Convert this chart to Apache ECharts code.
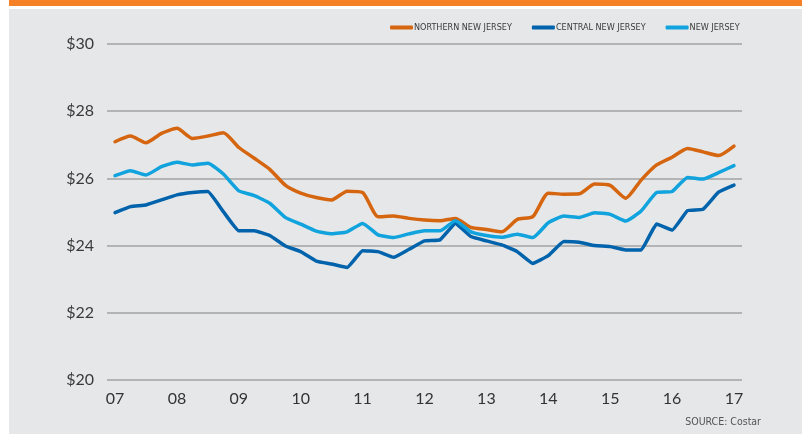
<!DOCTYPE html>
<html>
<head>
<meta charset="utf-8">
<script src="https://cdn.jsdelivr.net/npm/echarts@6/dist/echarts.min.js"></script>
<style>
html,body{margin:0;padding:0;background:#fff;}
#chart{width:802px;height:434px;}
</style>
</head>
<body>
<div id="chart"></div>
<script>
// Quarterly asking rents, 2007 Q1 .. 2017 Q1 (41 quarters)
var yearLabels = ['07','08','09','10','11','12','13','14','15','16','17'];
var seriesNames = ['NORTHERN NEW JERSEY','CENTRAL NEW JERSEY','NEW JERSEY'];
var northern = [27.09,27.26,27.06,27.34,27.49,27.19,27.26,27.36,26.92,26.60,26.27,25.80,25.56,25.43,25.36,25.62,25.58,24.86,24.88,24.81,24.76,24.74,24.81,24.54,24.48,24.41,24.78,24.86,25.56,25.53,25.54,25.83,25.79,25.41,25.95,26.40,26.63,26.89,26.79,26.68,26.96];
var central  = [24.98,25.16,25.21,25.36,25.51,25.58,25.61,25.01,24.44,24.44,24.30,23.99,23.82,23.54,23.45,23.35,23.85,23.82,23.65,23.89,24.14,24.17,24.66,24.27,24.14,24.02,23.82,23.47,23.70,24.12,24.10,24.00,23.97,23.87,23.87,24.64,24.46,25.04,25.08,25.59,25.80];
var newJersey= [26.08,26.23,26.10,26.35,26.48,26.40,26.45,26.13,25.63,25.49,25.26,24.84,24.64,24.43,24.35,24.41,24.66,24.32,24.24,24.35,24.44,24.44,24.74,24.41,24.30,24.25,24.34,24.24,24.68,24.88,24.84,24.98,24.93,24.73,25.03,25.58,25.61,26.03,25.98,26.17,26.38];
var yTicks = [20,22,24,26,28,30];

function pairs(arr){ return arr.map(function(v,i){ return [i, v]; }); }
var labelPos = yearLabels.map(function(_, i){ return i*4; });

var chart = echarts.init(document.getElementById('chart'), null, {renderer:'canvas'});
var condensed = "'Liberation Sans Narrow','DejaVu Sans Condensed','Roboto Condensed',Roboto,sans-serif";
chart.setOption({
  backgroundColor: '#ffffff',
  animation: false,
  graphic: [
    {type:'rect', left:9, top:9, shape:{width:793, height:425}, style:{fill:'#e6e7e8'}, z:-10},
    {type:'rect', left:9, top:0, shape:{width:793, height:6}, style:{fill:'#f58025'}, z:-10},
    {type:'text', right:41, top:417, style:{text:'SOURCE: Costar', fill:'#555555', font:"10.5px " + condensed}}
  ],
  legend: {
    data: seriesNames,
    left: 385, top: 18,
    itemWidth: 23, itemHeight: 4, itemGap: 20,
    icon: 'roundRect',
    textStyle: {color:'#3a3a3a', fontSize:9, fontFamily: condensed, padding:[0,0,0,-4]}
  },
  grid: {left:107, right:60, top:44, bottom:54, containLabel:false},
  xAxis: {
    type:'value', min:-0.52, max:40.52,
    axisLine:{show:false}, axisTick:{show:false}, splitLine:{show:false},
    axisLabel:{
      customValues: labelPos,
      formatter: function(v){ var k = Math.round(v/4); return yearLabels[k] || ''; },
      color:'#333333', fontSize:16, fontFamily:"Lato,'Open Sans',sans-serif", margin:11
    }
  },
  yAxis: {
    type:'value', min:yTicks[0], max:yTicks[yTicks.length-1], interval:2,
    axisLine:{show:false}, axisTick:{show:false},
    splitLine:{lineStyle:{color:'#a3a3a3', width:1.5}},
    axisLabel:{formatter:function(v){return '$'+v;}, color:'#3a3a3a', fontSize:16, fontFamily:"Lato,'Open Sans',sans-serif", margin:13}
  },
  series: [
    {name:seriesNames[0], type:'line', data:pairs(northern), showSymbol:false, smooth:0.2, lineStyle:{width:3.5, color:'#d5650f', join:'round', cap:'round'}, itemStyle:{color:'#d5650f'}},
    {name:seriesNames[1], type:'line', data:pairs(central), showSymbol:false, smooth:0.1, lineStyle:{width:3.5, color:'#0063ac', join:'round', cap:'round'}, itemStyle:{color:'#0063ac'}},
    {name:seriesNames[2], type:'line', data:pairs(newJersey), showSymbol:false, smooth:0.15, lineStyle:{width:3.5, color:'#10a3dd', join:'round', cap:'round'}, itemStyle:{color:'#10a3dd'}}
  ]
});
</script>
</body>
</html>
